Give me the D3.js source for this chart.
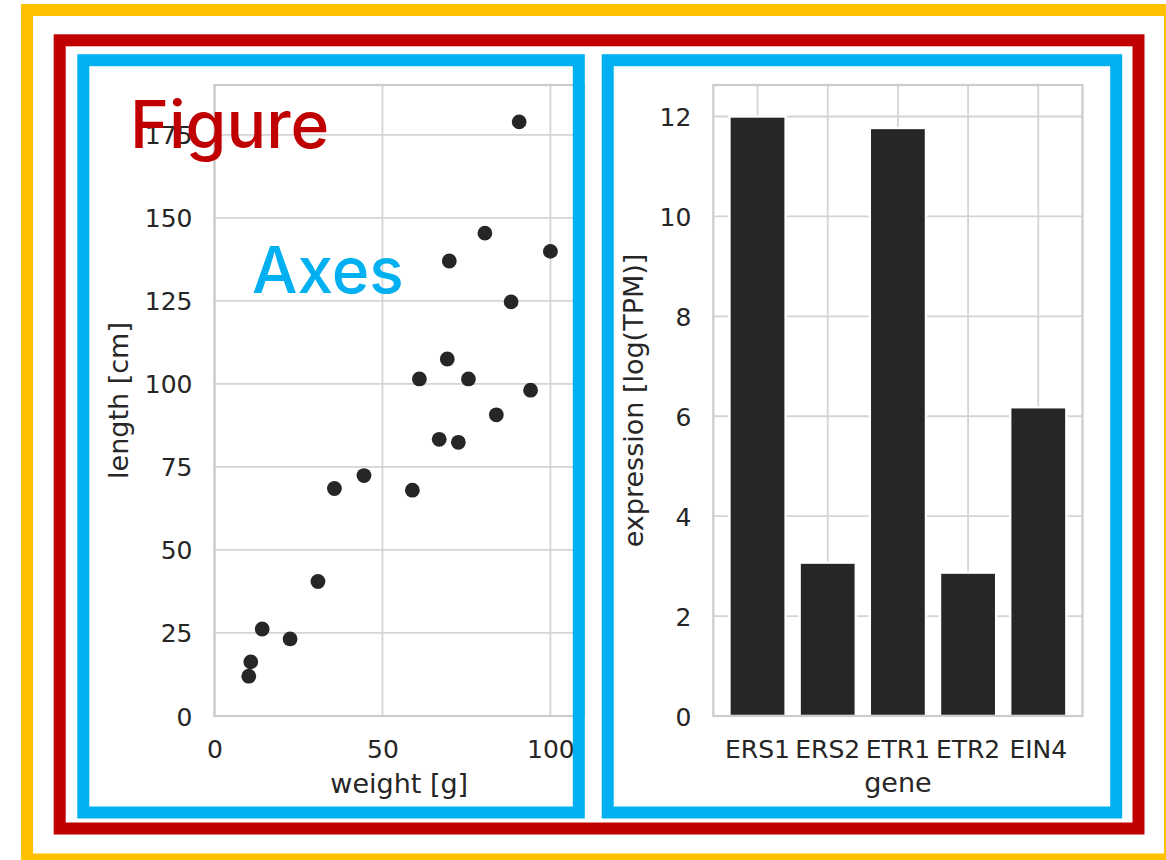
<!DOCTYPE html>
<html><head><meta charset="utf-8">
<script src="https://cdn.jsdelivr.net/npm/d3@7"></script>
<style>body{margin:0;background:#fff;overflow:hidden} svg{display:block}</style>
</head><body>
<script>
// ---- data ----
const weights = [90.7, 80.5, 69.9, 100.0, 88.3, 69.3, 61.0, 75.6, 94.1, 83.9, 66.9, 72.6, 44.5, 35.7, 58.9, 30.8, 14.2, 22.5, 10.8, 10.2];
const lengths = [178.9, 145.4, 137.0, 139.9, 124.7, 107.5, 101.5, 101.5, 98.1, 90.7, 83.3, 82.4, 72.4, 68.5, 68.0, 40.5, 26.2, 23.2, 16.3, 12.0];
const genes = ["ERS1", "ERS2", "ETR1", "ETR2", "EIN4"];
const expression = [12.0, 3.07, 11.77, 2.87, 6.18];
const scatterXTicks = [0, 50, 100];
const scatterYTicks = [0, 25, 50, 75, 100, 125, 150, 175];
const barYTicks = [0, 2, 4, 6, 8, 10, 12];
const scatterXLabel = "weight [g]";
const scatterYLabel = "length [cm]";
const barXLabel = "gene";
const barYLabel = "expression [log(TPM)]";
const figureLabel = "Figure";
const axesLabel = "Axes";

// ---- style ----
const W = 1166, H = 860;
const ink = "#262626", gridC = "#d4d4d4", spineC = "#cccccc";
const tickFont = "25px 'DejaVu Sans'", labelFont = "27px 'DejaVu Sans'";

const svg = d3.select("body").append("svg").attr("width", W).attr("height", H)
  .style("background", "#fff");

function styleAxis(g) {
  g.select(".domain").remove();
  g.selectAll("line").remove();
  g.selectAll("text").attr("fill", ink).style("font", tickFont);
}

// ========== Scatter ==========
const sp = {l: 214.5, r: 584, t: 85, b: 716};
const sx = d3.scaleLinear().domain([0, 110]).range([sp.l, sp.r]);
const sy = d3.scaleLinear().domain([0, 190]).range([sp.b, sp.t]);
const gs = svg.append("g");
gs.append("g").selectAll("line").data(scatterXTicks).join("line")
  .attr("x1", d => sx(d)).attr("x2", d => sx(d)).attr("y1", sp.t).attr("y2", sp.b)
  .attr("stroke", gridC).attr("stroke-width", 1.8);
gs.append("g").selectAll("line").data(scatterYTicks).join("line")
  .attr("y1", d => sy(d)).attr("y2", d => sy(d)).attr("x1", sp.l).attr("x2", sp.r)
  .attr("stroke", gridC).attr("stroke-width", 1.8);
gs.append("rect").attr("x", sp.l).attr("y", sp.t).attr("width", sp.r - sp.l).attr("height", sp.b - sp.t)
  .attr("fill", "none").attr("stroke", spineC).attr("stroke-width", 2.2);
gs.append("g").selectAll("circle").data(weights.map((w, i) => [w, lengths[i]])).join("circle")
  .attr("cx", d => sx(d[0])).attr("cy", d => sy(d[1])).attr("r", 7.4).attr("fill", ink);
gs.append("g").attr("transform", `translate(0,${sp.b})`)
  .call(d3.axisBottom(sx).tickValues(scatterXTicks).tickSize(0).tickFormat(d3.format("d")))
  .call(styleAxis)
  .call(g => g.selectAll("text").attr("y", 41.5).attr("dy", 0));
gs.append("g").attr("transform", `translate(${sp.l},0)`)
  .call(d3.axisLeft(sy).tickValues(scatterYTicks).tickSize(0).tickFormat(d3.format("d")))
  .call(styleAxis)
  .call(g => g.selectAll("text").attr("x", -22).attr("dy", "0.36em"));
gs.append("text").attr("x", (sp.l + sp.r) / 2).attr("y", 793).attr("text-anchor", "middle")
  .attr("fill", ink).style("font", labelFont).text(scatterXLabel);
gs.append("text").attr("transform", `translate(128,${(sp.t + sp.b) / 2}) rotate(-90)`)
  .attr("text-anchor", "middle").attr("fill", ink).style("font", labelFont).text(scatterYLabel);

// ========== Bars ==========
const bp = {l: 713.3, r: 1082.5, t: 85, b: 716};
const bx = d3.scaleBand().domain(genes).range([bp.l, bp.r]).paddingInner(0.2).paddingOuter(0.23);
const by = d3.scaleLinear().domain([0, 12.63]).range([bp.b, bp.t]);
const gb = svg.append("g");
gb.append("g").selectAll("line").data(genes).join("line")
  .attr("x1", d => bx(d) + bx.bandwidth() / 2).attr("x2", d => bx(d) + bx.bandwidth() / 2)
  .attr("y1", bp.t).attr("y2", bp.b).attr("stroke", gridC).attr("stroke-width", 1.8);
gb.append("g").selectAll("line").data(barYTicks).join("line")
  .attr("y1", d => by(d)).attr("y2", d => by(d)).attr("x1", bp.l).attr("x2", bp.r)
  .attr("stroke", gridC).attr("stroke-width", 1.8);
gb.append("g").selectAll("rect").data(genes.map((g, i) => [g, expression[i]])).join("rect")
  .attr("x", d => bx(d[0])).attr("width", bx.bandwidth())
  .attr("y", d => by(d[1])).attr("height", d => by(0) - by(d[1]))
  .attr("fill", ink).attr("stroke", "#fff").attr("stroke-width", 2.4);
gb.append("rect").attr("x", bp.l).attr("y", bp.t).attr("width", bp.r - bp.l).attr("height", bp.b - bp.t)
  .attr("fill", "none").attr("stroke", spineC).attr("stroke-width", 2.2);
gb.append("g").attr("transform", `translate(0,${bp.b})`)
  .call(d3.axisBottom(bx).tickSize(0))
  .call(styleAxis)
  .call(g => g.selectAll("text").attr("y", 41.5).attr("dy", 0));
gb.append("g").attr("transform", `translate(${bp.l},0)`)
  .call(d3.axisLeft(by).tickValues(barYTicks).tickSize(0).tickFormat(d3.format("d")))
  .call(styleAxis)
  .call(g => g.selectAll("text").attr("x", -22).attr("dy", "0.36em"));
gb.append("text").attr("x", (bp.l + bp.r) / 2).attr("y", 792).attr("text-anchor", "middle")
  .attr("fill", ink).style("font", labelFont).text(barXLabel);
gb.append("text").attr("transform", `translate(643,${(bp.t + bp.b) / 2}) rotate(-90)`)
  .attr("text-anchor", "middle").attr("fill", ink).style("font", labelFont).text(barYLabel);

// ========== Annotation frames ==========
const frames = [
  {x: 27, y: 10, w: 1143, h: 849.5, c: "#ffc000"},
  {x: 59.7, y: 40.3, w: 1138.5 - 59.7, h: 828.5 - 40.3, c: "#c00000"},
  {x: 83.3, y: 60.2, w: 578.8 - 83.3, h: 812.5 - 60.2, c: "#00b0f0"},
  {x: 607.7, y: 60.2, w: 1116.2 - 607.7, h: 812.5 - 60.2, c: "#00b0f0"}
];
svg.append("g").selectAll("rect").data(frames).join("rect")
  .attr("x", d => d.x).attr("y", d => d.y).attr("width", d => d.w).attr("height", d => d.h)
  .attr("fill", "none").attr("stroke", d => d.c).attr("stroke-width", 12);
svg.append("text").attr("x", 130).attr("y", 148).attr("fill", "#c00000")
  .style("font", "500 66px Inter").text(figureLabel);
svg.append("text").attr("x", 252).attr("y", 293).attr("fill", "#00b0f0")
  .style("font", "500 64px Inter").text(axesLabel);
</script>
</body></html>
